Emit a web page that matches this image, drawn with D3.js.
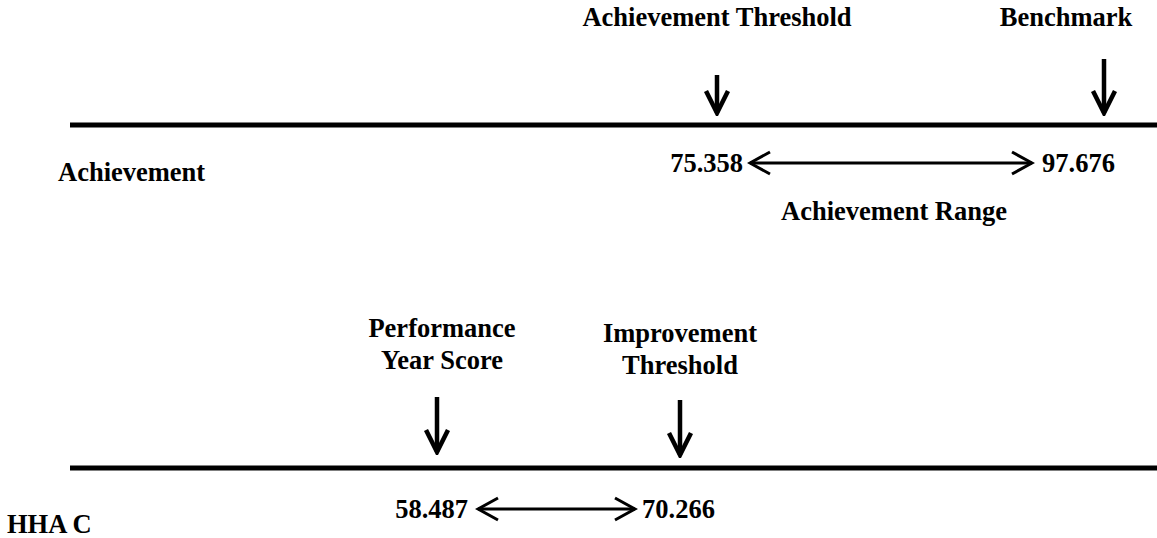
<!DOCTYPE html>
<html>
  <head>
    <script src="https://d3js.org/d3.v7.min.js"></script>
    <style>
      body { margin: 0; background: #fff; }
      text { font-family: "Liberation Serif", "Times New Roman", serif; font-weight: bold; font-size: 26.5px; fill: #000; }
    </style>
  </head>
  <body>
    <div id="chart"></div>
    <script>
      // rows of the diagram
      const rowNames = ['Achievement', 'HHA C'];
      const achValues = [75.358, 97.676];
      const achLabels = [['Achievement Threshold'], ['Benchmark']];
      const achRangeLabel = 'Achievement Range';
      const hhaValues = [58.487, 70.266];
      const hhaLabels = [['Performance', 'Year Score'], ['Improvement', 'Threshold']];

      const width = 1157, height = 538;

      const svg = d3.select('#chart')
        .append('svg')
        .attr('width', width)
        .attr('height', height);

      const defs = svg.append('defs');
      // open chevron heads for the range arrows
      defs.append('marker')
        .attr('id', 'head')
        .attr('viewBox', '0 0 26 26')
        .attr('refX', 23).attr('refY', 13)
        .attr('markerWidth', 26).attr('markerHeight', 26)
        .attr('markerUnits', 'userSpaceOnUse')
        .attr('orient', 'auto-start-reverse')
        .append('path')
        .attr('d', 'M3,2 L23,13 L3,24')
        .attr('fill', 'none')
        .attr('stroke', '#000')
        .attr('stroke-width', 3);

      // heavier chevron for the pointer arrows
      defs.append('marker')
        .attr('id', 'down')
        .attr('viewBox', '0 0 28 28')
        .attr('refX', 25).attr('refY', 14)
        .attr('markerWidth', 28).attr('markerHeight', 28)
        .attr('markerUnits', 'userSpaceOnUse')
        .attr('orient', 'auto')
        .append('path')
        .attr('d', 'M3,3 L25,14 L3,25')
        .attr('fill', 'none')
        .attr('stroke', '#000')
        .attr('stroke-width', 4.5);

      // one linear scale per row
      const xAch = d3.scaleLinear().domain(achValues).range([717, 1104]);
      const xHha = d3.scaleLinear().domain(hhaValues).range([437, 680]);

      function drawRow(cfg) {
        const g = svg.append('g');
        const x = cfg.x;

        g.append('line')
          .attr('x1', 70).attr('x2', width)
          .attr('y1', cfg.lineY).attr('y2', cfg.lineY)
          .attr('stroke', '#000').attr('stroke-width', 5);

        g.append('text')
          .attr('x', cfg.nameX).attr('y', cfg.nameY)
          .text(cfg.name);

        cfg.values.forEach((v, i) => {
          const cx = x(v);
          g.append('line')
            .attr('x1', cx).attr('x2', cx)
            .attr('y1', cfg.arrowTop[i]).attr('y2', cfg.tipY[i])
            .attr('stroke', '#000').attr('stroke-width', 4.5)
            .attr('marker-end', 'url(#down)');

          const t = g.append('text')
            .attr('text-anchor', 'middle')
            .attr('x', cx + cfg.labelShift[i])
            .attr('y', cfg.labelY[i]);
          cfg.labels[i].forEach((s, j) => {
            t.append('tspan')
              .attr('x', cx + cfg.labelShift[i])
              .attr('dy', j === 0 ? 0 : 32)
              .text(s);
          });
        });

        // values with double-headed arrow between them
        const x0 = x(cfg.values[0]) + cfg.numOffset[0];
        const x1 = x(cfg.values[1]) + cfg.numOffset[1];
        g.append('text')
          .attr('x', x0).attr('y', cfg.numY)
          .attr('text-anchor', 'end')
          .text(d3.format('.3f')(cfg.values[0]));
        g.append('text')
          .attr('x', x1).attr('y', cfg.numY)
          .text(d3.format('.3f')(cfg.values[1]));
        g.append('line')
          .attr('x1', x0 + cfg.gap[0]).attr('x2', x1 - cfg.gap[1])
          .attr('y1', cfg.numY - 9).attr('y2', cfg.numY - 9)
          .attr('stroke', '#000').attr('stroke-width', 2.8)
          .attr('marker-start', 'url(#head)')
          .attr('marker-end', 'url(#head)');
        return g;
      }

      const achRow = drawRow({
        x: xAch, values: achValues, labels: achLabels,
        name: rowNames[0], nameX: 58, nameY: 181,
        lineY: 125, arrowTop: [75, 59], tipY: [113, 113],
        labelY: [26, 26], labelShift: [0, -38],
        numY: 172, numOffset: [26, -62], gap: [7, 10]
      });
      achRow.append('text')
        .attr('x', 894).attr('y', 220)
        .attr('text-anchor', 'middle')
        .text(achRangeLabel);

      drawRow({
        x: xHha, values: hhaValues, labels: hhaLabels,
        name: rowNames[1], nameX: 7, nameY: 533,
        lineY: 468, arrowTop: [397, 400], tipY: [452, 455],
        labelY: [337, 342], labelShift: [5, 0],
        numY: 518, numOffset: [31, -38], gap: [10, 7]
      });
    </script>
  </body>
</html>
